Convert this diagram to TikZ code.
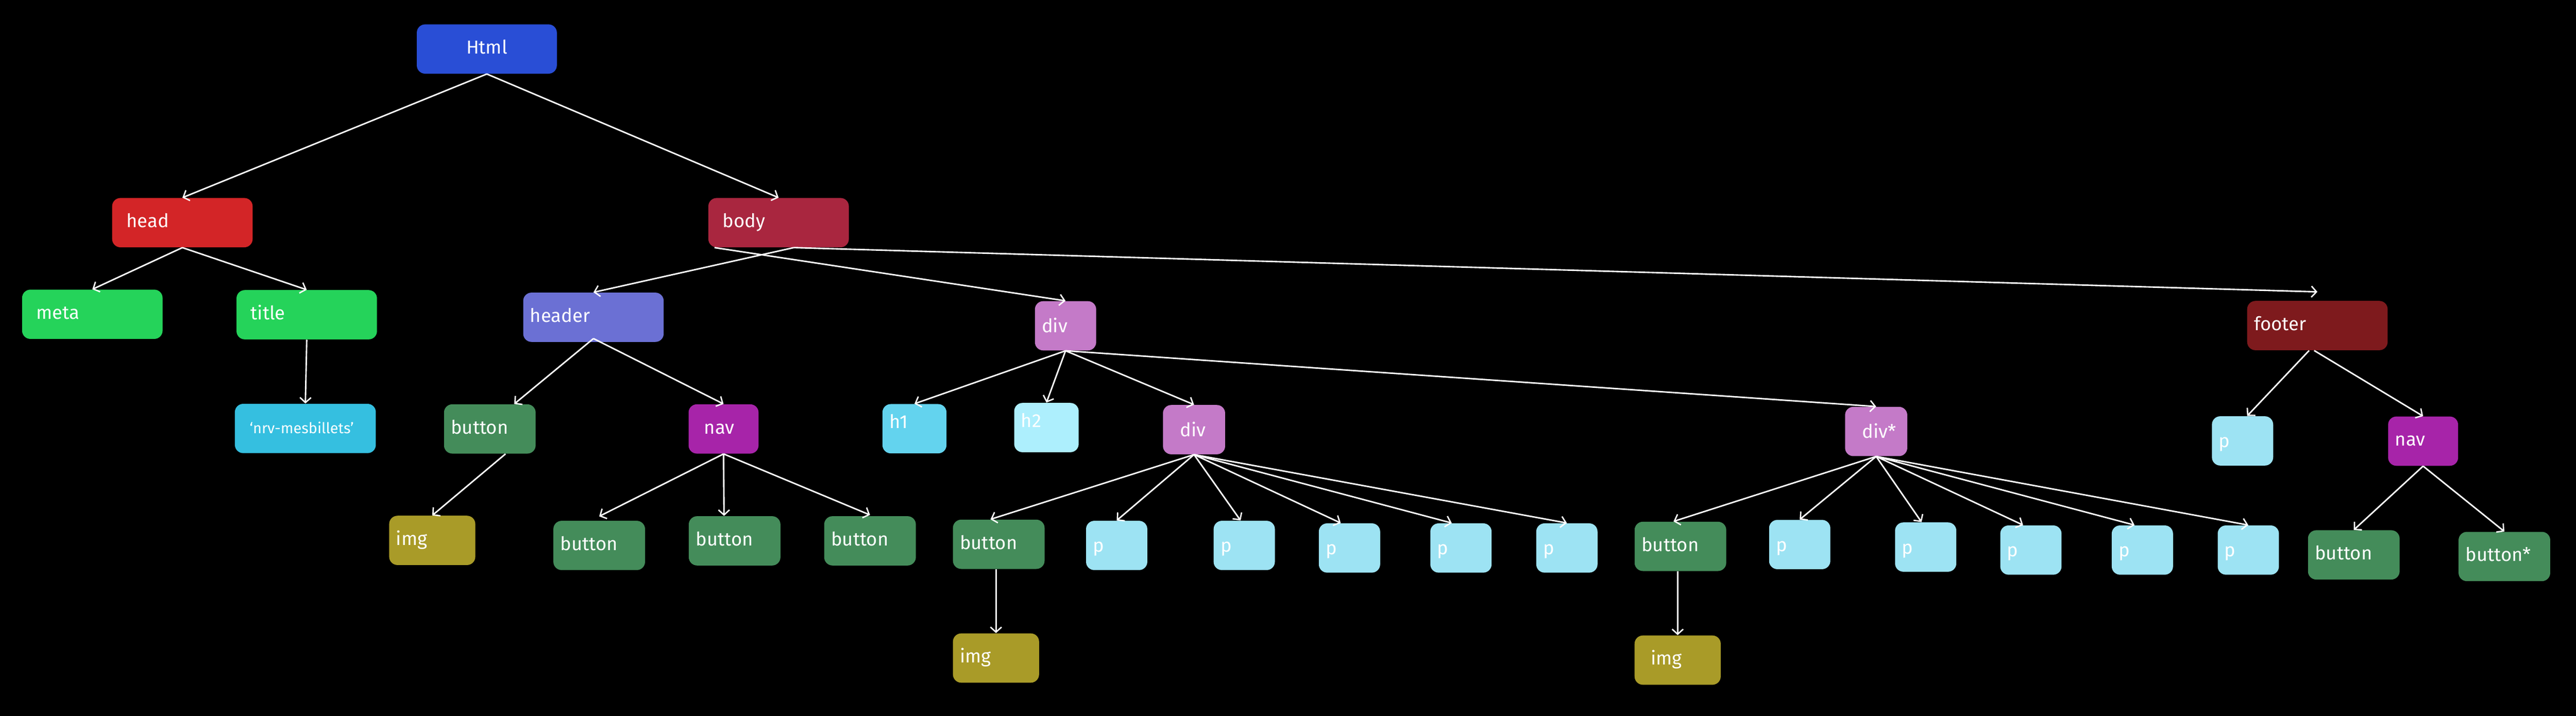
\documentclass[tikz,border=0pt]{standalone}
\usepackage{fontspec}
\setmainfont{Fira Sans}
\usetikzlibrary{arrows.meta}
\definecolor{cHtml}{RGB}{41,78,214}
\definecolor{cHead}{RGB}{211,37,39}
\definecolor{cBody}{RGB}{169,38,63}
\definecolor{cGreen}{RGB}{37,211,90}
\definecolor{cCyan}{RGB}{53,191,224}
\definecolor{cHeader}{RGB}{107,112,212}
\definecolor{cButton}{RGB}{68,140,90}
\definecolor{cNav}{RGB}{167,36,169}
\definecolor{cImg}{RGB}{169,155,40}
\definecolor{cHone}{RGB}{99,211,238}
\definecolor{cHtwo}{RGB}{173,239,253}
\definecolor{cDiv}{RGB}{196,122,200}
\definecolor{cP}{RGB}{157,227,243}
\definecolor{cFooter}{RGB}{126,26,29}
\newcommand{\boxfont}{\fontsize{11.6pt}{13pt}\selectfont}
\newcommand{\smallboxfont}{\fontsize{9.2pt}{11pt}\selectfont}
\tikzset{
  box/.style={rectangle, rounded corners=0.18cm, minimum height=1.07cm,
    inner ysep=0pt, text height=0.4cm, text depth=0.19cm,
    font=\boxfont, text=white, align=left},
  wbig/.style={inner xsep=0.31cm, text width=2.43cm},
  wbigs/.style={inner xsep=0.15cm, text width=2.75cm},
  wmid/.style={inner xsep=0.15cm, text width=1.69cm},
  wimg/.style={inner xsep=0.15cm, text width=1.57cm},
  wnav/.style={inner xsep=0.34cm, text width=0.84cm},
  wnavs/.style={inner xsep=0.15cm, text width=1.22cm},
  wsmall/.style={inner xsep=0.15cm, text width=1.03cm},
  wsmallr/.style={inner xsep=0.37cm, text width=0.61cm},
  arr/.style={draw=white, line width=0.032cm,
    -{Straight Barb[length=0.11cm,width=0.24cm,line width=0.03cm]}},
}
\newcommand{\pp}{\raisebox{-0.04cm}{p}}
\begin{document}
\begin{tikzpicture}
\useasboundingbox (0,0) rectangle (55.93,-15.54);
\fill[black] (-0.2,0.2) rectangle (56.13,-15.74);

% level 0-1
\node[box, fill=cHtml, inner xsep=0.3cm, text width=2.44cm, align=center] (html) at (10.57,-1.065) {Html};
\node[box, wbig, fill=cHead] (head) at (3.96,-4.835) {head};
\node[box, wbig, fill=cBody] (body) at (16.905,-4.835) {body};

% head subtree
\node[box, wbig, fill=cGreen] (meta) at (2.005,-6.825) {meta};
\node[box, wbig, fill=cGreen] (title) at (6.66,-6.835) {title};
\node[box, inner xsep=0.32cm, text width=2.42cm, fill=cCyan, font=\smallboxfont] (nrv) at (6.63,-9.305) {‘nrv-mesbillets’};

% header subtree
\node[box, wbigs, fill=cHeader] (header) at (12.885,-6.89) {header};
\node[box, wmid, fill=cButton] (btnone) at (10.635,-9.315) {button};
\node[box, wnav, fill=cNav] (navone) at (15.71,-9.315) {nav};
\node[box, wimg, fill=cImg] (imgone) at (9.385,-11.735) {img};
\node[box, wmid, fill=cButton] (btna) at (13.01,-11.845) {button};
\node[box, wmid, fill=cButton] (btnb) at (15.95,-11.745) {button};
\node[box, wmid, fill=cButton] (btnc) at (18.89,-11.745) {button};

% div subtree
\node[box, wsmall, fill=cDiv] (divone) at (23.135,-7.075) {\raisebox{-0.04cm}{div}};
\node[box, inner xsep=0.15cm, text width=1.09cm, fill=cHone] (hone) at (19.855,-9.31) {\raisebox{0.11cm}{h1}};
\node[box, inner xsep=0.15cm, text width=1.10cm, fill=cHtwo] (htwo) at (22.72,-9.285) {\raisebox{0.11cm}{h2}};
\node[box, wsmallr, fill=cDiv] (divtwo) at (25.925,-9.33) {\raisebox{-0.04cm}{div}};
\node[box, wmid, fill=cButton] (btnd) at (21.685,-11.82) {button};
\node[box, wimg, fill=cImg] (imgd) at (21.625,-14.29) {img};
\node[box, wsmall, fill=cP] (pa) at (24.245,-11.845) {\pp};
\node[box, wsmall, fill=cP] (pb) at (27.015,-11.845) {\pp};
\node[box, wsmall, fill=cP] (pc) at (29.30,-11.90) {\pp};
\node[box, wsmall, fill=cP] (pd) at (31.72,-11.90) {\pp};
\node[box, wsmall, fill=cP] (pe) at (34.02,-11.90) {\pp};

% div* subtree
\node[box, inner xsep=0.37cm, text width=0.61cm, fill=cDiv] (divs) at (40.735,-9.37) {\raisebox{-0.04cm}{div*}};
\node[box, wmid, fill=cButton] (btne) at (36.485,-11.865) {button};
\node[box, inner xsep=0.35cm, text width=1.17cm, fill=cImg] (imge) at (36.425,-14.335) {img};
\node[box, wsmall, fill=cP] (pf) at (39.075,-11.825) {\pp};
\node[box, wsmall, fill=cP] (pg) at (41.81,-11.88) {\pp};
\node[box, wsmall, fill=cP] (ph) at (44.095,-11.945) {\pp};
\node[box, wsmall, fill=cP] (pi) at (46.515,-11.945) {\pp};
\node[box, wsmall, fill=cP] (pj) at (48.815,-11.945) {\pp};

% footer subtree
\node[box, wbigs, fill=cFooter] (footer) at (50.315,-7.07) {footer};
\node[box, wsmall, fill=cP] (pk) at (48.69,-9.575) {\pp};
\node[box, wnavs, fill=cNav] (navtwo) at (52.61,-9.58) {nav};
\node[box, wmid, fill=cButton] (btnf) at (51.105,-12.05) {button};
\node[box, wmid, fill=cButton] (btng) at (54.375,-12.085) {button*};

% connectors
\draw[arr] (html.south) -- (head.north);
\draw[arr] (html.south) -- (body.north);
\draw[arr] (head.south) -- (meta.north);
\draw[arr] (head.south) -- (title.north);
\draw[arr] (title.south) -- (nrv.north);
\draw[arr] ([xshift=0.33cm]body.south) -- (header.north);
\draw[arr] ([xshift=0.14cm]body.south west) -- (divone.north);
\draw[arr] ([xshift=0.33cm]body.south) -- ([yshift=0.19cm]footer.north);

\draw[arr] ([yshift=0.08cm]header.south) -- ([xshift=0.53cm]btnone.north);
\draw[arr] ([yshift=0.08cm]header.south) -- (navone.north);
\draw[arr] ([xshift=0.34cm]btnone.south) -- (imgone.north);
\draw[arr] (navone.south) -- ([yshift=0.09cm]btna.north);
\draw[arr] (navone.south) -- ([xshift=-0.23cm]btnb.north);
\draw[arr] (navone.south) -- ([yshift=0.02cm]btnc.north);

\draw[arr] (divone.south) -- (hone.north);
\draw[arr] (divone.south) -- (htwo.north);
\draw[arr] (divone.south) -- (divtwo.north);
\draw[arr] (divone.south) -- (divs.north);

\draw[arr] (divtwo.south) -- ([xshift=-0.18cm]btnd.north);
\draw[arr] (divtwo.south) -- (pa.north);
\draw[arr] (divtwo.south) -- ([xshift=-0.08cm]pb.north);
\draw[arr] (divtwo.south) -- ([xshift=-0.19cm]pc.north);
\draw[arr] (divtwo.south) -- ([xshift=-0.2cm]pd.north);
\draw[arr] (divtwo.south) -- (pe.north);
\draw[arr] (imgd.north |- btnd.south) -- (imgd.north);

\draw[arr] (divs.south) -- ([xshift=-0.15cm]btne.north);
\draw[arr] (divs.south) -- (pf.north);
\draw[arr] (divs.south) -- ([xshift=-0.09cm]pg.north);
\draw[arr] (divs.south) -- ([xshift=-0.17cm]ph.north);
\draw[arr] (divs.south) -- ([xshift=-0.17cm]pi.north);
\draw[arr] (divs.south) -- (pj.north);
\draw[arr] (imge.north |- btne.south) -- (imge.north);

\draw[arr] ([xshift=-0.18cm]footer.south) -- ([xshift=0.1cm]pk.north);
\draw[arr] ([xshift=-0.07cm]footer.south) -- (navtwo.north);
\draw[arr] (navtwo.south) -- (btnf.north);
\draw[arr] (navtwo.south) -- (btng.north);
\end{tikzpicture}
\end{document}
